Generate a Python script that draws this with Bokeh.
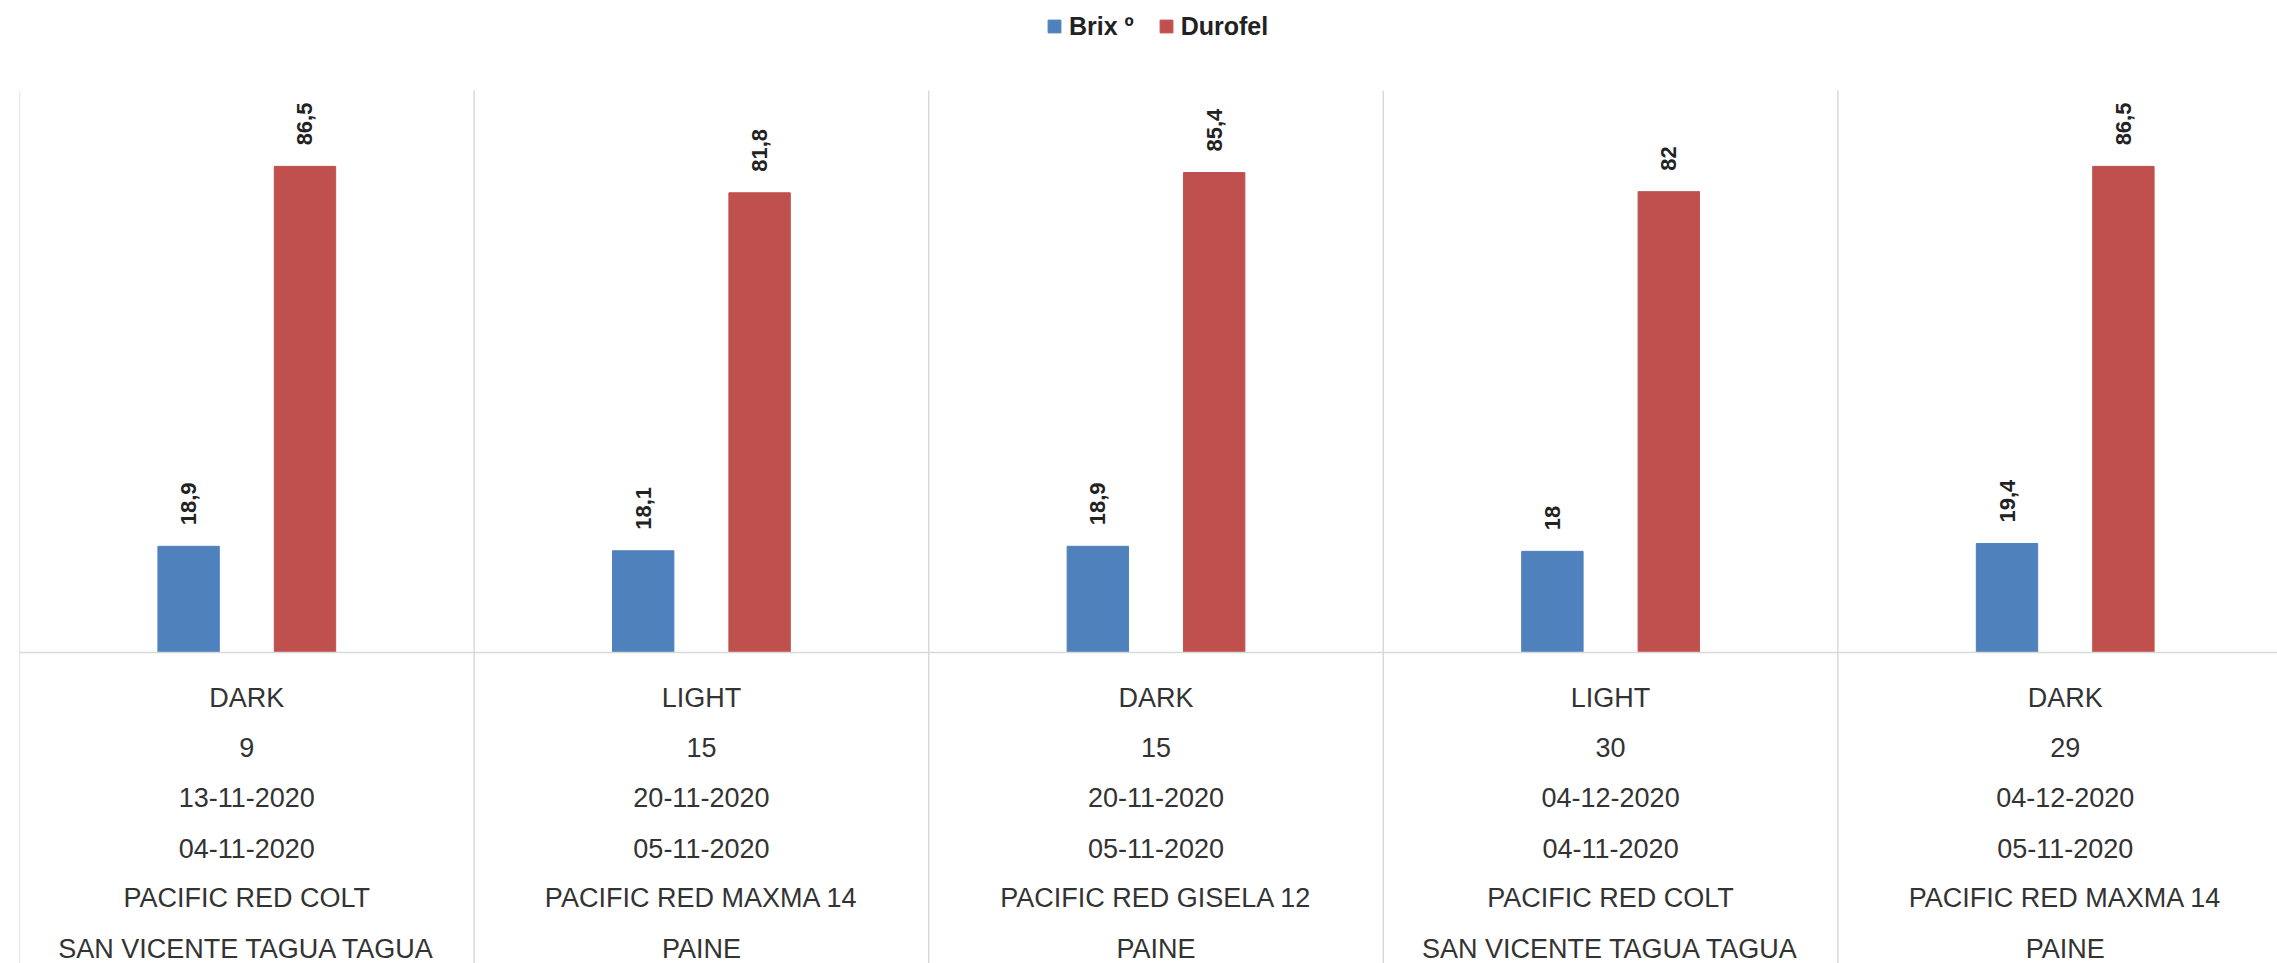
import math
from bokeh.plotting import figure
from bokeh.models import ColumnDataSource, Range1d, Span, Legend, LegendItem
from bokeh.core.properties import value
from bokeh.embed import file_html
from bokeh.resources import INLINE

# ---- data ----
color_class = ["DARK", "LIGHT", "DARK", "LIGHT", "DARK"]
days = ["9", "15", "15", "30", "29"]
eval_date = ["13-11-2020", "20-11-2020", "20-11-2020", "04-12-2020", "04-12-2020"]
harvest_date = ["04-11-2020", "05-11-2020", "05-11-2020", "04-11-2020", "05-11-2020"]
variety = ["PACIFIC RED COLT", "PACIFIC RED MAXMA 14", "PACIFIC RED GISELA 12",
           "PACIFIC RED COLT", "PACIFIC RED MAXMA 14"]
place = ["SAN VICENTE TAGUA TAGUA", "PAINE", "PAINE", "SAN VICENTE TAGUA TAGUA", "PAINE"]
brix = [18.9, 18.1, 18.9, 18.0, 19.4]
durofel = [86.5, 81.8, 85.4, 82.0, 86.5]
series_names = ["Brix º", "Durofel"]

# ---- layout constants ----
W, H = 2277, 963
LEFT = 19
CAT_PX = 454.6          # pixels per category
Y0_PX = 652             # baseline in figure px from top
Y100_PX = 90            # y=100 in figure px from top
ppu = (Y0_PX - Y100_PX) / 100.0
y_start = -(H - Y0_PX) / ppu
y_end = 100 + Y100_PX / ppu
x_end = (W - LEFT) / CAT_PX

BLUE = "#4F81BD"
RED = "#C0504D"
GRID = "#D9D9D9"

n = len(brix)
centers = [i + 0.5 for i in range(n)]
off = 0.128
bw = 0.135

def fmt(v):
    return ("%g" % v).replace(".", ",")

src_b = ColumnDataSource(dict(x=[c - off for c in centers], top=brix, lab=[fmt(v) for v in brix]))
src_d = ColumnDataSource(dict(x=[c + off for c in centers], top=durofel, lab=[fmt(v) for v in durofel]))

p = figure(width=W, height=H, output_backend="svg", toolbar_location=None,
           x_range=Range1d(0, x_end), y_range=Range1d(y_start, y_end))
p.min_border = 0
p.min_border_left = LEFT
p.xaxis.visible = False
p.yaxis.visible = False
p.xgrid.visible = False
p.ygrid.visible = False
p.outline_line_color = None
p.background_fill_color = "white"
p.border_fill_color = "white"

# category separators
bounds = list(range(n + 1))
p.segment(x0=bounds, x1=bounds, y0=[y_start] * len(bounds), y1=[100] * len(bounds),
          line_color=GRID, line_width=1.5)
p.add_layout(Span(location=0, dimension="width", line_color=GRID, line_width=1.5))

rb = p.vbar(x="x", top="top", bottom=0, width=bw, source=src_b, fill_color=BLUE, line_color=BLUE)
rd = p.vbar(x="x", top="top", bottom=0, width=bw, source=src_d, fill_color=RED, line_color=RED)

for s in (src_b, src_d):
    p.text(x="x", y="top", text="lab", source=s, angle=math.pi / 2, y_offset=-21,
           text_align="left", text_baseline="middle", text_font=value("Liberation Sans"),
           text_font_style="bold", text_font_size="22px", text_color="#222222")

# multi-line category labels
rows = [color_class, days, eval_date, harvest_date, variety, place]
lx, ly, lt, lyo = [], [], [], []
for i in range(n):
    for k, r in enumerate(rows):
        lx.append(centers[i]); ly.append(0); lt.append(r[i]); lyo.append(45 + k * 50.2)
src_l = ColumnDataSource(dict(x=lx, y=ly, t=lt, yo=lyo))
p.text(x="x", y="y", text="t", y_offset="yo", source=src_l, text_align="center",
       text_baseline="middle", text_font=value("Liberation Sans"), text_font_size="27px",
       text_color="#333333")

legend = Legend(items=[LegendItem(label=series_names[0], renderers=[rb]),
                       LegendItem(label=series_names[1], renderers=[rd])],
                orientation="horizontal", location=(1027, 922),
                glyph_width=16, glyph_height=16, label_height=30, label_standoff=7,
                spacing=24, padding=0, label_text_font="Liberation Sans",
                label_text_font_style="bold", label_text_font_size="25px",
                label_text_color="#222222", border_line_alpha=0, background_fill_alpha=0)
p.add_layout(legend)

open("out.html", "w").write(file_html(p, INLINE))
